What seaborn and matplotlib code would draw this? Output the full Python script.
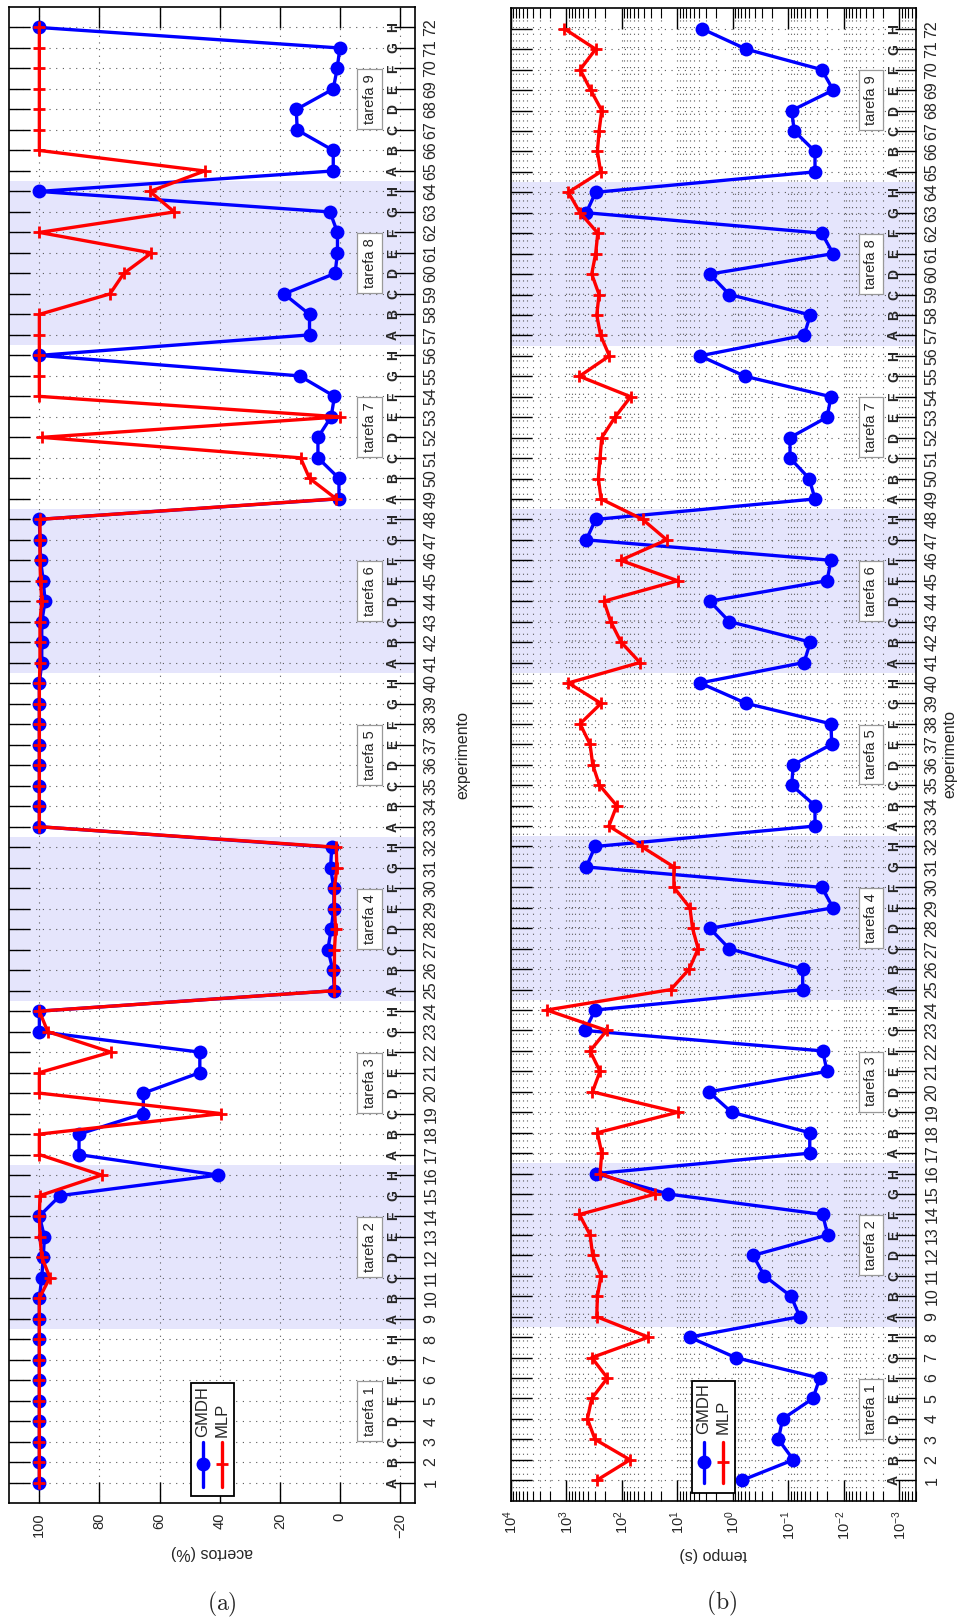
import numpy as np
import pandas as pd
import matplotlib
matplotlib.use("Agg")
import matplotlib.pyplot as plt
import matplotlib.transforms as mtransforms
from matplotlib.ticker import FixedLocator, LogLocator, LogFormatterSciNotation, NullFormatter
from matplotlib.patches import Rectangle
from matplotlib.lines import Line2D
import seaborn as sns

# ---------------------------------------------------------------- data
experimento = list(range(1, 73))
letras = list("ABCDEFGH") * 9
tarefas = [f"tarefa {k}" for k in range(1, 10)]

acertos_gmdh = [100, 100, 100, 100, 100, 100, 100, 100,
                100, 100, 99.2, 98.7, 98.3, 100, 93.1, 40.5,
                86.8, 86.8, 65.4, 65.4, 46.6, 46.6, 100, 100,
                1.8, 2.3, 4.0, 2.9, 2.0, 2.0, 3.1, 2.7,
                100, 100, 100, 100, 100, 100, 100, 100,
                99.2, 99.2, 99.2, 98.1, 98.7, 99.6, 99.8, 100,
                0.3, 0.3, 7.3, 7.3, 2.9, 1.8, 13.4, 100,
                10.1, 10.1, 18.6, 1.6, 0.8, 0.8, 3.3, 100,
                2.2, 2.2, 14.2, 14.5, 2.2, 0.9, 0.0, 100]

acertos_mlp = [100, 100, 100, 100, 100, 100, 100, 100,
               100, 100, 96.5, 99.2, 99.8, 100, 99.8, 79.3,
               100, 100, 39.4, 100, 100, 76.2, 97.2, 100,
               1.8, 1.8, 1.8, 1.4, 1.8, 1.8, 1.0, 1.2,
               100, 100, 100, 100, 100, 100, 100, 100,
               99.8, 99.8, 99.8, 99.2, 99.6, 99.8, 99.8, 99.8,
               1.2, 10.1, 13.1, 99.2, 0.0, 100, 100, 100,
               100, 100, 76.5, 71.9, 62.7, 100, 55.1, 63.2,
               45.0, 100, 100, 100, 100, 100, 100, 100]

tempo_gmdh = [0.68, 0.081, 0.151, 0.126, 0.036, 0.027, 0.89, 6.0,
              0.062, 0.089, 0.27, 0.43, 0.0195, 0.024, 14.5, 289,
              0.041, 0.041, 1.05, 2.7, 0.020, 0.024, 457, 302,
              0.055, 0.055, 1.15, 2.6, 0.0155, 0.025, 435, 302,
              0.033, 0.033, 0.087, 0.081, 0.0165, 0.017, 0.57, 3.9,
              0.052, 0.040, 1.15, 2.6, 0.020, 0.017, 435, 295,
              0.033, 0.042, 0.093, 0.093, 0.020, 0.017, 0.60, 3.9,
              0.052, 0.040, 1.15, 2.6, 0.0155, 0.025, 435, 295,
              0.033, 0.033, 0.078, 0.087, 0.0155, 0.025, 0.57, 3.6]

tempo_mlp = [282, 71, 303, 415, 347, 181, 347, 33,
             282, 274, 236, 333, 372, 578, 25, 246,
             229, 274, 9.8, 337, 246, 372, 187, 2250,
             13.1, 6.1, 4.2, 5.3, 5.9, 11.5, 11.5, 44,
             170, 123, 252, 333, 372, 563, 236, 915,
             47, 103, 158, 209, 9.8, 105, 15.5, 42,
             236, 263, 246, 229, 132, 69, 578, 167,
             240, 282, 256, 347, 295, 270, 563, 915,
             240, 274, 256, 229, 362, 563, 295, 1080]

df_acertos = pd.DataFrame({"experimento": experimento,
                           "GMDH": acertos_gmdh, "MLP": acertos_mlp})
df_tempo = pd.DataFrame({"experimento": experimento,
                         "GMDH": tempo_gmdh, "MLP": tempo_mlp})

# ---------------------------------------------------------------- style
W, H = 957, 1620
sns.set_theme(style="white")
plt.rcParams["font.family"] = ["Liberation Sans", "DejaVu Sans"]
plt.rcParams["axes.edgecolor"] = "black"
plt.rcParams["axes.linewidth"] = 1.2

AZUL = "#0000ff"
VERMELHO = "#ff0000"
SOMBRA = "#e5e5fc"
GRID = dict(color="0.35", linestyle=(0, (1, 5)), linewidth=0.8)
FS = 10.5

fig = plt.figure(figsize=(W / 100, H / 100), dpi=100)


def frac_box(l, t, r, b):
    return [l / W, 1 - b / H, (r - l) / W, (b - t) / H]


def fx(x):
    return x / W


def fy(y):
    return 1 - y / H


ax_a = fig.add_axes(frac_box(9.3, 7, 415, 1503))
ax_b = fig.add_axes(frac_box(510.7, 8.3, 916, 1500.7))


def series(ax, df):
    sns.lineplot(data=df, x="GMDH", y="experimento", orient="y", estimator=None,
                 sort=True, color=AZUL, linewidth=2.4, marker="o", markersize=10,
                 markeredgecolor=AZUL, markeredgewidth=0, ax=ax, zorder=3)
    sns.lineplot(data=df, x="MLP", y="experimento", orient="y", estimator=None,
                 sort=True, color=VERMELHO, linewidth=2.4, marker="+", markersize=9,
                 markeredgecolor=VERMELHO, markeredgewidth=2, ax=ax, zorder=4)


def common(ax):
    ax.set_ylim(0, 73)
    ax.set_axisbelow(True)
    for k in range(1, 9, 2):
        ax.axhspan(8 * k + 0.5, 8 * k + 8.5, color=SOMBRA, lw=0, zorder=0.2)
    ax.yaxis.set_major_locator(FixedLocator(experimento))
    ax.set_yticklabels([str(e) for e in experimento])
    ax.tick_params(axis="y", which="major", direction="in", length=15, width=1,
                   color="black", left=True, right=True, labelleft=False,
                   labelright=True, labelrotation=90, labelsize=11.5, pad=6)
    for t in ax.yaxis.get_major_ticks():
        t.label2.set_verticalalignment("center")
    ax.tick_params(axis="x", which="major", direction="in", length=15, width=1,
                   color="black", top=True, bottom=True, labelrotation=90,
                   labelsize=FS, pad=7)
    ax.grid(True, which="major", axis="both", **GRID)
    for s in ax.spines.values():
        s.set_color("black")
        s.set_linewidth(1.2)
        s.set_zorder(6)
    tr = mtransforms.blended_transform_factory(ax.transAxes, ax.transData)
    for e, l in zip(experimento, letras):
        ax.text(0.946, e, l, transform=tr, rotation=90, ha="center", va="center",
                fontsize=10, fontweight="bold", zorder=5)
    for k, nome in enumerate(tarefas):
        ax.text(0.888, 8 * k + 4.5, nome, transform=tr, rotation=90, ha="center",
                va="center", fontsize=10.5, zorder=5,
                bbox=dict(boxstyle="square,pad=0.35", fc="white", ec="0.6", lw=0.9))
    ax.yaxis.set_label_position("right")


def legenda(ax, box, entradas):
    l, t, r, b = box
    ax.add_patch(Rectangle((fx(l), fy(b)), fx(r) - fx(l), fy(t) - fy(b),
                           transform=fig.transFigure, fc="white", ec="black",
                           lw=1.3, zorder=7, clip_on=False))
    for x, y1, y2, ym, yt, nome, cor, mk, ms, mew in entradas:
        ax.add_line(Line2D([fx(x), fx(x)], [fy(y1), fy(y2)], transform=fig.transFigure,
                           color=cor, lw=2.4, zorder=8, clip_on=False))
        ax.add_line(Line2D([fx(x)], [fy(ym)], transform=fig.transFigure, color=cor,
                           marker=mk, markersize=ms, markeredgecolor=cor,
                           markeredgewidth=mew, lw=0, zorder=9, clip_on=False))
        ax.text(fx(x), fy(yt), nome, transform=fig.transFigure, rotation=90,
                ha="center", va="bottom", fontsize=12, zorder=9)


# ---------------------------------------------------------------- (a) acertos
series(ax_a, df_acertos)
common(ax_a)
ax_a.set_xlim(110, -25)
ax_a.xaxis.set_major_locator(FixedLocator([100, 80, 60, 40, 20, 0, -20]))
ax_a.set_xlabel("acertos (%)", rotation=180, fontsize=11.5, labelpad=5)
ax_a.set_ylabel("experimento", rotation=90, fontsize=11.5, labelpad=12)
legenda(ax_a, (190.7, 1382.7, 234, 1496),
        [(202.7, 1441.7, 1486.7, 1464, 1437, "GMDH", AZUL, "o", 10, 0),
         (221.7, 1441.7, 1486.7, 1464, 1437, "MLP", VERMELHO, "+", 9, 2)])

# ---------------------------------------------------------------- (b) tempo
ax_b.set_xscale("log")
series(ax_b, df_tempo)
common(ax_b)
ax_b.set_xlim(1e4, 5e-4)
ax_b.xaxis.set_major_locator(FixedLocator([10.0 ** p for p in range(-3, 5)]))
ax_b.xaxis.set_major_formatter(LogFormatterSciNotation())
ax_b.xaxis.set_minor_locator(LogLocator(base=10, subs=np.arange(2, 10), numticks=30))
ax_b.xaxis.set_minor_formatter(NullFormatter())
ax_b.tick_params(axis="x", which="minor", direction="in", length=7, width=0.8,
                 color="black", top=True, bottom=True)
ax_b.grid(True, which="minor", axis="x", **GRID)
ax_b.set_xlabel("tempo (s)", rotation=180, fontsize=11.5, labelpad=5)
ax_b.set_ylabel("experimento", rotation=90, fontsize=11.5, labelpad=2)
legenda(ax_b, (692.3, 1380.7, 735, 1493.3),
        [(704, 1441.7, 1483.3, 1462, 1434, "GMDH", AZUL, "o", 10, 0),
         (723, 1441.7, 1483.3, 1462, 1434, "MLP", VERMELHO, "+", 9, 2)])

fig.text(fx(222), fy(1604), r"$\mathrm{(a)}$", math_fontfamily="cm", fontsize=17,
         ha="center", va="center")
fig.text(fx(722), fy(1603), r"$\mathrm{(b)}$", math_fontfamily="cm", fontsize=17,
         ha="center", va="center")

fig.savefig("out.png", dpi=100)
